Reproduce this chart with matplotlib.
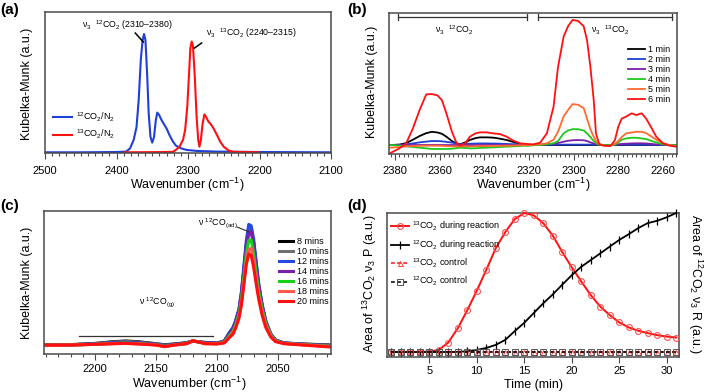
import matplotlib
matplotlib.use('Agg')
import matplotlib.pyplot as plt
from matplotlib.ticker import MultipleLocator

plt.rcParams['font.family'] = ['Liberation Sans', 'DejaVu Sans']
plt.rcParams['mathtext.fontset'] = 'custom'
plt.rcParams['mathtext.rm'] = 'Liberation Sans'
plt.rcParams['mathtext.it'] = 'Liberation Sans:italic'
plt.rcParams['mathtext.bf'] = 'Liberation Sans:bold'
plt.rcParams['mathtext.default'] = 'regular'

# ---------------- Panel (a) data ----------------
a_wn_12 = [2500, 2450, 2400, 2390, 2386, 2381, 2376, 2372, 2369, 2366, 2363.5, 2361.5,
           2359.5, 2357, 2355, 2352.5, 2350, 2347.5, 2345, 2343, 2340.5, 2337, 2333,
           2330, 2326, 2321, 2317, 2310, 2302, 2288, 2260, 2200, 2100]
a_km_12 = [0.0, 0.0, 0.002, 0.004, 0.006, 0.029, 0.088, 0.18, 0.37, 0.66, 0.80, 0.843,
           0.80, 0.54, 0.28, 0.11, 0.069, 0.11, 0.23, 0.283, 0.267, 0.23, 0.195,
           0.17, 0.124, 0.076, 0.048, 0.029, 0.017, 0.01, 0.005, 0.002, 0.0]
a_wn_13 = [2388, 2350, 2321, 2317, 2312, 2307, 2304, 2301, 2298.5, 2296.7, 2294.8, 2293,
           2290.5, 2288, 2285.7, 2284, 2282, 2279.5, 2277, 2275, 2271.5, 2268, 2264.3,
           2259.5, 2255, 2250, 2243, 2236, 2202]
a_km_13 = [0.0, 0.001, 0.003, 0.017, 0.04, 0.088, 0.16, 0.326, 0.564, 0.743, 0.79, 0.755,
           0.54, 0.255, 0.088, 0.04, 0.088, 0.207, 0.27, 0.255, 0.219, 0.2, 0.17,
           0.124, 0.076, 0.04, 0.012, 0.003, 0.0]
a_labels = ['$^{12}$CO$_2$/N$_2$', '$^{13}$CO$_2$/N$_2$']

# ---------------- Panel (b) data ----------------
b_wn = [2382, 2378, 2375, 2372, 2369, 2366, 2363.5, 2361, 2359, 2357, 2354.5, 2352.5, 2351,
        2348.5, 2346.5, 2344, 2342, 2339, 2336, 2333, 2330, 2327, 2324, 2321, 2318, 2315,
        2312, 2309, 2307, 2304.5, 2302.5, 2300.5, 2298, 2295.5, 2294, 2292.5, 2291, 2290,
        2288.5, 2286.5, 2283.5, 2281.5, 2280, 2278.5, 2276.5, 2274, 2272, 2269.5, 2267.5,
        2265, 2263, 2260, 2257, 2254]
b_1min = [0.000, 0.003, 0.015, 0.040, 0.068, 0.090, 0.100, 0.095, 0.085, 0.063, 0.030, 0.012,
          0.005, 0.020, 0.038, 0.052, 0.058, 0.058, 0.056, 0.048, 0.038, 0.023, 0.008, -0.003,
          0.0, 0.0, 0.0, 0.0, 0.0, 0.0, 0.0, 0.0, 0.0, 0.0, 0.0, 0.0, 0.0, 0.0, 0.0, 0.0, 0.0,
          0.0, 0.0, 0.0, 0.0, 0.0, 0.0, 0.0, 0.0, 0.0, 0.0, 0.0, 0.0, 0.0]
b_2min = [0.000, 0.002, 0.005, 0.012, 0.020, 0.026, 0.030, 0.030, 0.028, 0.024, 0.018, 0.012,
          0.008, 0.008, 0.010, 0.011, 0.012, 0.012, 0.011, 0.010, 0.008, 0.006, 0.004, 0.002,
          0.001, 0.001, 0.002, 0.002, 0.003, 0.003, 0.003, 0.003, 0.003, 0.003, 0.003, 0.003,
          0.002, 0.002, 0.002, 0.001, 0.001, 0.001, 0.002, 0.002, 0.002, 0.002, 0.002, 0.002,
          0.002, 0.001, 0.001, 0.0, 0.0, 0.0]
b_3min = [0.0, 0.0, 0.0, 0.0, 0.0, 0.0, 0.0, 0.0, 0.0, 0.0, 0.0, 0.0, 0.0, 0.0, 0.0, 0.0,
          0.0, 0.0, 0.0, 0.0, 0.0, 0.0, 0.0, 0.0, 0.0, 0.002, 0.005, 0.010, 0.015, 0.025,
          0.032, 0.036, 0.038, 0.036, 0.030, 0.020, 0.012, 0.008, 0.004, 0.0, 0.0, 0.002,
          0.005, 0.008, 0.010, 0.012, 0.013, 0.013, 0.012, 0.008, 0.005, 0.002, 0.0, 0.0]
b_4min = [0.000, -0.005, -0.010, -0.015, -0.020, -0.025, -0.030, -0.030, -0.030, -0.030,
          -0.028, -0.024, -0.020, -0.022, -0.025, -0.025, -0.022, -0.020, -0.018, -0.015,
          -0.012, -0.010, -0.007, -0.005, -0.002, 0.000, 0.005, 0.013, 0.030, 0.088, 0.110,
          0.120, 0.120, 0.110, 0.088, 0.060, 0.030, 0.015, 0.000, 0.000, 0.000, 0.002, 0.020,
          0.040, 0.050, 0.055, 0.055, 0.050, 0.045, 0.030, 0.020, 0.005, 0.000, 0.000]
b_5min = [-0.020, -0.015, -0.010, -0.008, -0.006, -0.005, -0.005, -0.005, -0.006, -0.008,
          -0.010, -0.010, -0.010, -0.010, -0.010, -0.009, -0.008, -0.008, -0.007, -0.006,
          -0.005, -0.004, -0.002, 0.000, 0.002, 0.005, 0.013, 0.040, 0.100, 0.215, 0.265,
          0.310, 0.305, 0.280, 0.200, 0.120, 0.063, 0.030, 0.008, -0.005, -0.005, 0.010,
          0.030, 0.060, 0.088, 0.095, 0.100, 0.100, 0.090, 0.063, 0.040, 0.015, 0.000, -0.010]
b_6min = [-0.060, -0.025, 0.013, 0.126, 0.265, 0.384, 0.386, 0.376, 0.340, 0.240, 0.100,
          0.018, -0.005, 0.013, 0.063, 0.088, 0.096, 0.096, 0.088, 0.083, 0.063, 0.033, 0.013,
          0.008, 0.005, 0.018, 0.088, 0.290, 0.590, 0.820, 0.900, 0.947, 0.940, 0.900, 0.795,
          0.593, 0.340, 0.088, 0.005, -0.005, -0.008, 0.038, 0.139, 0.200, 0.215, 0.240, 0.227,
          0.240, 0.200, 0.126, 0.063, 0.013, -0.005, -0.013]
b_labels = ['1 min', '2 min', '3 min', '4 min', '5 min', '6 min']
b_colors = ['#000000', '#2040d0', '#7a1fa8', '#1ec81e', '#ff6a30', '#ff1010']

# ---------------- Panel (c) data ----------------
c_wn = [2241, 2220, 2200, 2185, 2175, 2165, 2150, 2143, 2135, 2125, 2120, 2116, 2110, 2100,
        2094, 2090, 2087, 2085, 2082, 2080, 2078, 2076, 2074, 2072, 2070, 2068, 2066, 2063,
        2060, 2056, 2052, 2045, 2030, 2007]
c_8 = [0.000, 0.003, 0.012, 0.025, 0.030, 0.025, 0.010, 0.002, 0.008, 0.018, 0.030, 0.025,
       0.020, 0.015, 0.030, 0.090, 0.125, 0.170, 0.260, 0.380, 0.560, 0.740, 0.850, 0.860,
       0.760, 0.600, 0.450, 0.290, 0.170, 0.080, 0.035, 0.015, 0.008, 0.000]
c_10 = [0.000, 0.002, 0.010, 0.022, 0.027, 0.022, 0.008, 0.000, 0.006, 0.016, 0.030, 0.025,
        0.018, 0.014, 0.030, 0.090, 0.125, 0.170, 0.262, 0.385, 0.565, 0.750, 0.860, 0.870,
        0.770, 0.610, 0.460, 0.295, 0.175, 0.082, 0.036, 0.015, 0.007, -0.002]
c_12 = [0.000, 0.002, 0.008, 0.018, 0.022, 0.018, 0.006, -0.005, 0.004, 0.014, 0.030, 0.025,
        0.016, 0.013, 0.030, 0.090, 0.130, 0.175, 0.270, 0.400, 0.590, 0.780, 0.900, 0.890,
        0.790, 0.630, 0.470, 0.300, 0.180, 0.085, 0.038, 0.015, 0.006, -0.004]
c_14 = [0.000, 0.001, 0.006, 0.015, 0.018, 0.014, 0.004, -0.008, 0.002, 0.012, 0.030, 0.025,
        0.014, 0.012, 0.025, 0.080, 0.115, 0.160, 0.250, 0.370, 0.550, 0.730, 0.840, 0.846,
        0.740, 0.590, 0.440, 0.285, 0.170, 0.080, 0.035, 0.014, 0.005, -0.006]
c_16 = [0.000, 0.000, 0.005, 0.012, 0.015, 0.011, 0.002, -0.010, 0.001, 0.010, 0.030, 0.025,
        0.012, 0.010, 0.022, 0.070, 0.100, 0.145, 0.230, 0.340, 0.510, 0.680, 0.780, 0.784,
        0.680, 0.540, 0.410, 0.265, 0.160, 0.075, 0.032, 0.012, 0.003, -0.008]
c_18 = [-0.003, 0.000, 0.005, 0.010, 0.012, 0.009, 0.001, -0.012, 0.000, 0.010, 0.030, 0.025,
        0.010, 0.009, 0.018, 0.060, 0.090, 0.130, 0.210, 0.315, 0.470, 0.630, 0.715, 0.720,
        0.620, 0.490, 0.370, 0.240, 0.145, 0.068, 0.028, 0.011, 0.002, -0.011]
c_20 = [0.000, 0.000, 0.005, 0.010, 0.012, 0.008, 0.000, -0.012, 0.000, 0.010, 0.030, 0.025,
        0.010, 0.008, 0.015, 0.055, 0.080, 0.120, 0.200, 0.300, 0.450, 0.600, 0.680, 0.670,
        0.580, 0.460, 0.350, 0.220, 0.130, 0.060, 0.025, 0.010, 0.000, -0.015]
c_labels = ['8 mins', '10 mins', '12 mins', '14 mins', '16 mins', '18 mins', '20 mins']
c_colors = ['#000000', '#707070', '#2448e0', '#7a1fa8', '#18d018', '#ff5a4a', '#ff1010']

# ---------------- Panel (d) data ----------------
d_time = list(range(1, 32))
d_13co2 = [0, 0, 0, 0, 0.003, 0.015, 0.068, 0.17, 0.30, 0.44, 0.59, 0.746, 0.862, 0.956, 1.0,
           0.983, 0.927, 0.838, 0.72, 0.61, 0.508, 0.41, 0.327, 0.266, 0.213, 0.177, 0.153,
           0.136, 0.121, 0.111, 0.104]
d_12co2 = [0, 0, 0, 0, 0, 0, 0, 0.001, 0.005, 0.015, 0.029, 0.051, 0.087, 0.15, 0.21, 0.28,
           0.35, 0.414, 0.484, 0.552, 0.613, 0.661, 0.709, 0.758, 0.806, 0.847, 0.891, 0.927,
           0.944, 0.969, 1.0]
d_13co2_ctrl = [0] * 31
d_12co2_ctrl = [0] * 31
d_labels = ['$^{13}$CO$_2$ during reaction', '$^{12}$CO$_2$ during reaction',
            '$^{13}$CO$_2$ control', '$^{12}$CO$_2$ control']

# ---------------- figure ----------------
W, H = 706, 392
fig = plt.figure(figsize=(W / 100, H / 100), dpi=100)

SPINE = '#4a4a4a'


def px_axes(l, t, r, b):
    return fig.add_axes([l / W, 1 - b / H, (r - l) / W, (b - t) / H])


def style(ax, pad):
    for s in ax.spines.values():
        s.set_color(SPINE)
        s.set_linewidth(1.1)
    ax.set_yticks([])
    ax.tick_params(axis='x', which='both', direction='out', color=SPINE, labelsize=8,
                   width=0.8, pad=pad)
    ax.tick_params(axis='x', which='major', length=4)
    ax.tick_params(axis='x', which='minor', length=2.5)


def ftext(x, y, s, **kw):
    fig.text(x / W, 1 - y / H, s, **kw)


# (a)
axa = px_axes(45, 12, 331, 153)
axa.plot(a_wn_12, a_km_12, color='#1f3fd6', lw=1.5, label=a_labels[0])
axa.plot(a_wn_13, a_km_13, color='#ff1010', lw=1.5, label=a_labels[1])
axa.set_xlim(2500, 2100)
axa.set_ylim(-0.005, 1.0)
axa.xaxis.set_major_locator(MultipleLocator(100))
axa.xaxis.set_minor_locator(MultipleLocator(10))
style(axa, 5.0)
axa.legend(loc='upper left', bbox_to_anchor=(0.028, 0.30), frameon=False, fontsize=6.5,
           handlelength=2.1, handletextpad=0.4, labelspacing=0.45, borderpad=0,
           borderaxespad=0)
axa.text(2448, 0.907, 'ν$_3$  $^{12}$CO$_2$ (2310–2380)', fontsize=6.3, va='center', ha='left')
axa.plot([2373.7, 2362.5], [0.85, 0.786], color='black', lw=1.1)
axa.text(2275.4, 0.85, 'ν$_3$  $^{13}$CO$_2$ (2240–2315)', fontsize=6.3, va='center', ha='left')
axa.plot([2290.9, 2281], [0.743, 0.779], color='black', lw=1.1)

# (b)
axb = px_axes(389, 13, 677, 154)
for y, lab, col in zip([b_1min, b_2min, b_3min, b_4min, b_5min, b_6min], b_labels, b_colors):
    axb.plot(b_wn, y, color=col, lw=1.3, label=lab)
axb.set_xlim(2382.7, 2253.7)
axb.set_ylim(-0.068, 1.0)
axb.xaxis.set_major_locator(MultipleLocator(20))
axb.xaxis.set_minor_locator(MultipleLocator(2))
style(axb, 4.5)
axb.legend(loc='upper left', bbox_to_anchor=(0.83, 0.775), frameon=False, fontsize=6.5,
           handlelength=1.9, handletextpad=0.35, labelspacing=0.12, borderpad=0,
           borderaxespad=0)
for x1, x2 in [(2378.7, 2321), (2316, 2256)]:
    axb.plot([x1, x2], [0.97, 0.97], color='#333333', lw=0.9)
    for xx in (x1, x2):
        axb.plot([xx, xx], [0.945, 0.995], color='#333333', lw=0.9)
axb.text(2353.6, 0.87, 'ν$_3$  $^{12}$CO$_2$', fontsize=6.3, ha='center', va='center')
axb.text(2283.7, 0.87, 'ν$_3$  $^{13}$CO$_2$', fontsize=6.3, ha='center', va='center')

# (c)
axc = px_axes(44, 211, 331, 354)
for y, lab, col in zip([c_8, c_10, c_12, c_14, c_16, c_18, c_20], c_labels, c_colors):
    axc.plot(c_wn, y, color=col, lw=2.2, label=lab, solid_joinstyle='round')
axc.set_xlim(2241.8, 2006.6)
axc.set_ylim(-0.067, 1.0)
axc.xaxis.set_major_locator(MultipleLocator(50))
axc.xaxis.set_minor_locator(MultipleLocator(10))
style(axc, 3.5)
axc.legend(loc='upper left', bbox_to_anchor=(0.819, 0.82), frameon=False, fontsize=6.5,
           handlelength=1.6, handletextpad=0.35, labelspacing=0.12, borderpad=0,
           borderaxespad=0)
axc.plot([2213, 2103.3], [0.067, 0.067], color='#333333', lw=0.9)
axc.text(2149, 0.32, 'ν $^{12}$CO$_{(g)}$', fontsize=6.3, ha='center', va='center')
axc.text(2083.3, 0.91, 'ν $^{12}$CO$_{(ad)}$', fontsize=6.3, ha='right', va='center')
axc.plot([2083.6, 2074.1], [0.88, 0.846], color='#333333', lw=0.8)

# (d)
axd = px_axes(387, 213, 679, 357)
axd.plot(d_time, d_13co2, color='#ff1010', lw=1.4, marker='o', ms=4.2, mfc='none',
         mec='#ff5050', mew=0.8, label=d_labels[0], clip_on=False, zorder=3)
axd.plot(d_time, d_12co2, color='black', lw=1.3, marker='|', ms=6, mew=0.9,
         label=d_labels[1], clip_on=False, zorder=3)
axd.plot(d_time, d_13co2_ctrl, color='#ff1010', lw=1.1, ls=(0, (2.5, 1.5)), marker='^',
         ms=3.6, mfc='none', mec='#ff4040', mew=0.7, label=d_labels[2], clip_on=False, zorder=4)
axd.plot(d_time, d_12co2_ctrl, color='black', lw=1.1, ls=(0, (2.5, 1.5)), marker='s',
         ms=3.8, mfc='none', mec='#555555', mew=0.7, label=d_labels[3], clip_on=False, zorder=4)
axd.set_xlim(0.55, 31.3)
axd.set_ylim(-0.036, 1.0)
axd.xaxis.set_major_locator(MultipleLocator(5))
style(axd, 2.5)
axd.legend(loc='upper left', bbox_to_anchor=(0.012, 0.955), frameon=False, fontsize=6.5,
           handlelength=2.0, handletextpad=0.35, labelspacing=0.55, borderpad=0,
           borderaxespad=0)

# axis labels
ftext(187, 185, 'Wavenumber (cm$^{-1}$)', fontsize=9, ha='center', va='center')
ftext(533, 185, 'Wavenumber (cm$^{-1}$)', fontsize=9, ha='center', va='center')
ftext(189, 384, 'Wavenumber (cm$^{-1}$)', fontsize=9, ha='center', va='center')
ftext(533, 385, 'Time (min)', fontsize=9, ha='center', va='center')
ftext(27, 84, 'Kubelka-Munk (a.u.)', fontsize=9, rotation=90, ha='center', va='center')
ftext(372, 82, 'Kubelka-Munk (a.u.)', fontsize=9, rotation=90, ha='center', va='center')
ftext(27, 283, 'Kubelka-Munk (a.u.)', fontsize=9, rotation=90, ha='center', va='center')
ftext(370, 284, 'Area of $^{13}$CO$_2$ ν$_3$ P (a.u.)', fontsize=9, rotation=90,
      ha='center', va='center')
ftext(695, 284, 'Area of $^{12}$CO$_2$ ν$_3$ R (a.u.)', fontsize=9, rotation=270,
      ha='center', va='center')

# panel labels
ftext(0, 10, '(a)', fontsize=11, fontweight='bold', ha='left', va='center')
ftext(347, 10, '(b)', fontsize=11, fontweight='bold', ha='left', va='center')
ftext(0, 206, '(c)', fontsize=11, fontweight='bold', ha='left', va='center')
ftext(347, 206, '(d)', fontsize=11, fontweight='bold', ha='left', va='center')

fig.savefig('out.png', dpi=100)
